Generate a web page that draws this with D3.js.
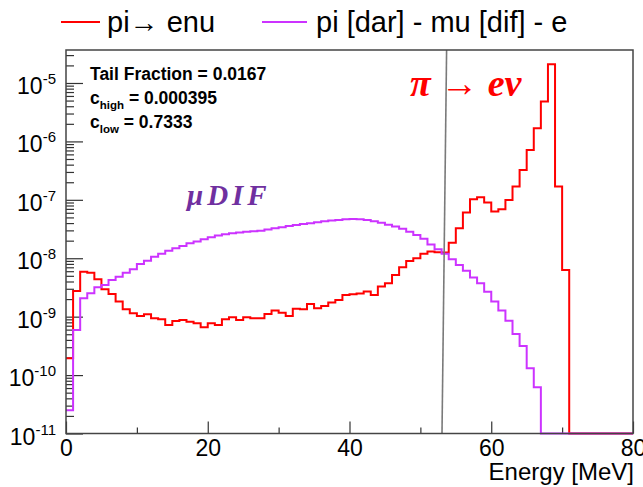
<!DOCTYPE html>
<html>
<head>
<meta charset="utf-8">
<script src="https://cdn.jsdelivr.net/npm/d3@7"></script>
<style>
  html, body { margin: 0; padding: 0; background: #ffffff; }
  svg { display: block; }
</style>
</head>
<body>
<script>
// Energy spectra of positrons, 1 MeV bins from 0 to 80 MeV (counts per bin, normalised)
const binCount = 80;
const binWidth = 1;

// pi -> e nu
const piEnu = [
  1.95e-10, 2.75e-9, 5.9e-9, 5.67e-9, 4.36e-9, 2.94e-9, 2.45e-9, 1.81e-9, 1.34e-9, 1.14e-9,
  1.03e-9, 1.1e-9, 9.4e-10, 9.0e-10, 7.2e-10, 8.4e-10, 8.8e-10, 8.2e-10, 7.7e-10, 6.6e-10,
  7.7e-10, 7.2e-10, 9.0e-10, 9.75e-10, 8.8e-10, 9.75e-10, 9.4e-10, 9.4e-10, 1.11e-9, 1.27e-9,
  1.17e-9, 1.03e-9, 1.37e-9, 1.34e-9, 1.65e-9, 1.39e-9, 1.52e-9, 1.74e-9, 1.93e-9, 2.35e-9,
  2.41e-9, 2.5e-9, 2.69e-9, 2.35e-9, 3.27e-9, 3.72e-9, 5.18e-9, 7.0e-9, 9.0e-9, 1.0e-8,
  1.19e-8, 1.3e-8, 1.27e-8, 1.25e-8, 1.85e-8, 3.26e-8, 6.04e-8, 1.02e-7, 1.11e-7, 8.96e-8,
  6.3e-8, 6.9e-8, 9.96e-8, 1.69e-7, 3.25e-7, 7.15e-7, 1.68e-6, 4.81e-6, 2.1e-5, 1.69e-7,
  6.3e-9, 0, 0, 0, 0, 0, 0, 0, 0, 0
];

// pi [decay at rest] - mu [decay in flight] - e
const piDarMuDif = [
  2.5e-11, 5.9e-10, 2.07e-9, 2.51e-9, 3.18e-9, 3.49e-9, 4.25e-9, 4.84e-9, 5.67e-9, 6.46e-9,
  7.98e-9, 9.1e-9, 1.06e-8, 1.19e-8, 1.35e-8, 1.48e-8, 1.62e-8, 1.81e-8, 1.93e-8, 2.11e-8,
  2.29e-8, 2.45e-8, 2.58e-8, 2.68e-8, 2.76e-8, 2.83e-8, 2.9e-8, 2.97e-8, 3.09e-8, 3.26e-8,
  3.39e-8, 3.57e-8, 3.72e-8, 3.87e-8, 3.97e-8, 4.13e-8, 4.3e-8, 4.41e-8, 4.53e-8, 4.65e-8,
  4.71e-8, 4.65e-8, 4.53e-8, 4.3e-8, 4.05e-8, 3.75e-8, 3.5e-8, 3.2e-8, 2.85e-8, 2.5e-8,
  2.15e-8, 1.72e-8, 1.43e-8, 1.19e-8, 9.6e-9, 7.7e-9, 6.1e-9, 4.66e-9, 3.72e-9, 2.68e-9,
  1.81e-9, 1.27e-9, 8.5e-10, 5.06e-10, 3.15e-10, 1.31e-10, 6.2e-11, 0, 0, 0,
  0, 0, 0, 0, 0, 0, 0, 0, 0, 0
];

const seriesNames = ["pi\u2192 enu", "pi [dar] - mu [dif] - e"];
const xTickMajor = [0, 20, 40, 60, 80];
const xTickMinor = [10, 30, 50, 70];
const yDecades = [-11, -10, -9, -8, -7, -6, -5];
const statLines = [
  { main: "Tail Fraction = 0.0167", sub: "", rest: "" },
  { main: "c", sub: "high", rest: " = 0.000395" },
  { main: "c", sub: "low", rest: " = 0.7333" }
];
// energy cut marker (MeV) at bottom and top of the frame
const cutEnergy = [53.05, 53.7];
const yMin = 1e-11, yMax = 3.67e-5;

const W = 643, H = 487;
const frameLeft = 66, frameRight = 633, frameTop = 50, frameBottom = 433.5;
const RED = "#ff0000", VIOLET = "#cc33ff";

const svg = d3.select("body").append("svg")
  .attr("width", W).attr("height", H)
  .attr("viewBox", `0 0 ${W} ${H}`);

const x = d3.scaleLinear().domain([0, binCount * binWidth]).range([frameLeft, frameRight]);
const y = d3.scaleLog().domain([yMin, yMax]).range([frameBottom, frameTop]);

// ---- axes ----
const majorY = yDecades.map(d => Math.pow(10, d));
const minorY = [];
yDecades.forEach(d => {
  for (let k = 2; k <= 9; k++) {
    const v = k * Math.pow(10, d);
    if (v < yMax) minorY.push(v);
  }
});

const axisStyle = g => {
  g.select(".domain").remove();
  g.selectAll(".tick line").attr("stroke", "#333").attr("stroke-width", 1.2);
};

svg.append("g").attr("transform", `translate(${frameLeft},0)`)
  .call(d3.axisLeft(y).tickValues(minorY).tickSize(-8).tickFormat(""))
  .call(axisStyle);
svg.append("g").attr("transform", `translate(${frameLeft},0)`)
  .call(d3.axisLeft(y).tickValues(majorY).tickSize(-17).tickFormat(""))
  .call(axisStyle);

svg.append("g").attr("transform", `translate(0,${frameBottom})`)
  .call(d3.axisBottom(x).tickValues(xTickMinor).tickSize(-6).tickFormat(""))
  .call(axisStyle);
const xAxisMajor = svg.append("g").attr("transform", `translate(0,${frameBottom})`)
  .call(d3.axisBottom(x).tickValues(xTickMajor).tickSize(-12).tickPadding(6).tickFormat(d3.format("d")))
  .call(axisStyle);
xAxisMajor.selectAll(".tick text")
  .attr("font-family", "'Liberation Sans', Arial, sans-serif")
  .attr("font-size", 23).attr("fill", "#000");

// y tick labels 10^n
const yLab = svg.append("g")
  .attr("font-family", "'Liberation Sans', Arial, sans-serif")
  .attr("fill", "#000");
yDecades.forEach(d => {
  const t = yLab.append("text")
    .attr("x", 56).attr("y", y(Math.pow(10, d)) + 11)
    .attr("text-anchor", "end");
  t.append("tspan").attr("font-size", 23).text("10");
  t.append("tspan").attr("font-size", 15).attr("dy", -10).text(String(d));
});

// x axis title
svg.append("text")
  .attr("x", frameRight + 1).attr("y", 480)
  .attr("text-anchor", "end")
  .attr("font-family", "'Liberation Sans', Arial, sans-serif")
  .attr("font-size", 24).attr("fill", "#000")
  .text("Energy [MeV]");

// ---- histograms (step outlines) ----
const stepPoints = vals => {
  const pts = [];
  vals.forEach((v, i) => {
    const vv = Math.max(v, yMin);
    pts.push([i * binWidth, vv], [(i + 1) * binWidth, vv]);
  });
  return pts;
};
const line = d3.line().x(d => x(d[0])).y(d => y(d[1]));

const plot = svg.append("g");
plot.append("path")
  .attr("d", line(stepPoints(piEnu)))
  .attr("fill", "none").attr("stroke", RED).attr("stroke-width", 2);
plot.append("path")
  .attr("d", line(stepPoints(piDarMuDif)))
  .attr("fill", "none").attr("stroke", VIOLET).attr("stroke-width", 2);

// energy cut line
svg.append("line")
  .attr("x1", x(cutEnergy[0])).attr("y1", frameBottom)
  .attr("x2", x(cutEnergy[1])).attr("y2", frameTop)
  .attr("stroke", "#7a7a7a").attr("stroke-width", 1.6);

// frame
svg.append("rect")
  .attr("x", frameLeft).attr("y", frameTop)
  .attr("width", frameRight - frameLeft).attr("height", frameBottom - frameTop)
  .attr("fill", "none").attr("stroke", "#444").attr("stroke-width", 1.5);

// ---- legend ----
const legend = svg.append("g")
  .attr("font-family", "'Liberation Sans', Arial, sans-serif")
  .attr("font-size", 29).attr("fill", "#000");
const legendItems = [
  { name: seriesNames[0], color: RED, x0: 61, x1: 100, tx: 107 },
  { name: seriesNames[1], color: VIOLET, x0: 262, x1: 307, tx: 316 }
];
legendItems.forEach(it => {
  legend.append("line")
    .attr("x1", it.x0).attr("x2", it.x1).attr("y1", 22).attr("y2", 22)
    .attr("stroke", it.color).attr("stroke-width", 2);
  legend.append("text").attr("x", it.tx).attr("y", 32).text(it.name);
});

// ---- statistics box ----
const stats = svg.append("g")
  .attr("font-family", "'Liberation Sans', Arial, sans-serif")
  .attr("font-weight", "bold").attr("fill", "#000");
const statBase = [80, 104, 128];
statLines.forEach((s, i) => {
  const t = stats.append("text").attr("x", 90).attr("y", statBase[i]).attr("font-size", 17.5);
  t.append("tspan").text(s.main);
  if (s.sub) {
    t.append("tspan").attr("font-size", 11.5).attr("dy", 5).text(s.sub);
    t.append("tspan").attr("dy", -5).text(s.rest);
  }
});

// ---- annotations ----
svg.append("text")
  .attr("x", 410).attr("y", 96)
  .attr("font-family", "'Liberation Serif', 'DejaVu Serif', serif")
  .attr("font-style", "italic").attr("font-weight", "bold")
  .attr("font-size", 38).attr("fill", RED)
  .text("\u03c0 \u2192 e\u03bd");

svg.append("text")
  .attr("x", 187).attr("y", 205)
  .attr("font-family", "'Liberation Serif', 'DejaVu Serif', serif")
  .attr("font-style", "italic").attr("font-weight", "bold")
  .attr("font-size", 29).attr("letter-spacing", 4).attr("fill", "#7030a0")
  .text("\u03bcDIF");
</script>
</body>
</html>
